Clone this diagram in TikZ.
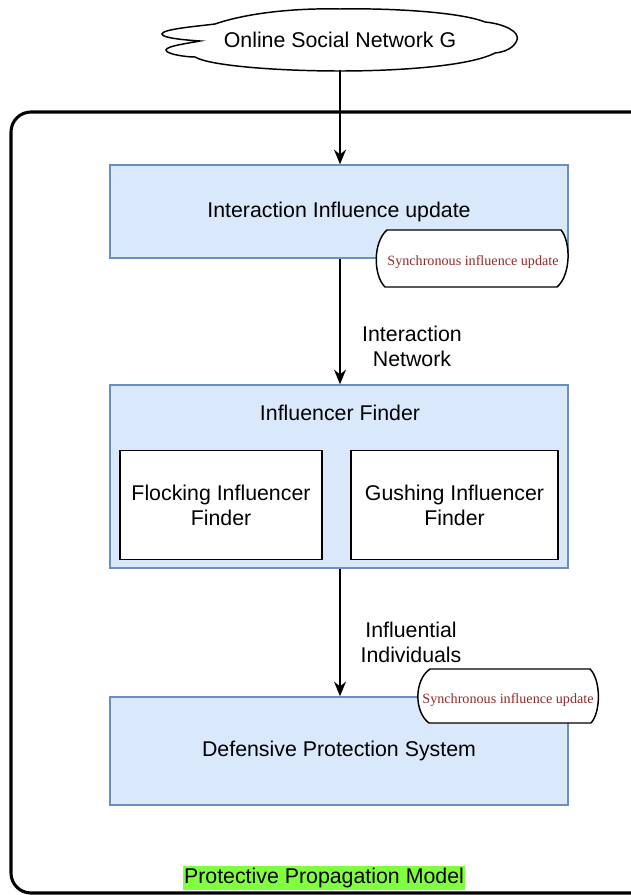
\documentclass[tikz,border=0pt]{standalone}
\usepackage{fontspec}
\setmainfont{Liberation Sans}
\newfontfamily\tagfont{Liberation Serif}
\usetikzlibrary{arrows.meta}
\definecolor{boxfill}{HTML}{DAE8FC}
\definecolor{boxline}{HTML}{6C8EBF}
\definecolor{tagred}{RGB}{150,40,40}
\definecolor{hlgreen}{RGB}{128,255,64}
\tikzset{
  bluebox/.style={draw=boxline, fill=boxfill, line width=1.1pt, minimum width=343.5pt, inner sep=0pt},
  whitebox/.style={draw=black, fill=white, line width=1.4pt, minimum height=81.75pt, inner sep=0pt, align=center},
  maintext/.style={font=\fontsize{16}{18.75}\selectfont, align=center},
  tagtext/.style={font=\tagfont\fontsize{10.6}{12}\selectfont, text=tagred, inner sep=0pt},
  tagshape/.style={draw=black, fill=white, line width=1.1pt},
  flow/.style={draw=black, line width=1.1pt, -{Stealth[length=11pt,width=9pt]}},
}
\begin{document}
\begin{tikzpicture}[x=0.75pt,y=-0.75pt]
\useasboundingbox (0,0) rectangle (631,895);
\fill[white] (0,0) rectangle (631,895);
\clip (0,0) rectangle (631,895);

% outer frame
\draw[line width=2.3pt, rounded corners=15pt] (11,893) rectangle (670,112);

% cloud
\node[maintext, minimum height=45pt, minimum width=200pt, inner sep=0pt] (cloud) at (340,40) {Online Social Network G};
\draw[line width=1.1pt, fill=white]
  (215,24) .. controls (250,12) and (300,8) .. (340,9)
  .. controls (390,8) and (460,12) .. (485,22)
  .. controls (505,24) and (520,32) .. (517,40)
  .. controls (514,48) and (505,52) .. (495,53)
  .. controls (470,66) and (400,71) .. (340,71)
  .. controls (280,71) and (210,66) .. (195,57)
  .. controls (185,57) and (166,54) .. (166,50)
  .. controls (166,46) and (190,43) .. (200,41)
  .. controls (185,40) and (162,38) .. (162,34)
  .. controls (162,29) and (200,26) .. (215,24);
\node[maintext] at (cloud.center) {Online Social Network G};

% main boxes
\node[bluebox, minimum height=69.75pt, maintext] (box1) at (339,211.5) {Interaction Influence update};
\node[bluebox, minimum height=137.25pt] (box2) at (339,476.5) {};
\node[maintext] (finder) at (340,413) {Influencer Finder};
\node[whitebox, minimum width=151.5pt, maintext] (flock) at (221,505) {Flocking Influencer\\Finder};
\node[whitebox, minimum width=155.25pt, maintext] (gush) at (454.5,505) {Gushing Influencer\\Finder};
\node[bluebox, minimum height=81pt, maintext] (box3) at (339,751) {Defensive Protection System};

% arrows
\draw[flow] (cloud.south -| 340,0) -- (box1.north -| 340,0);
\draw[flow] (box1.south -| 340,0) -- (box2.north -| 340,0);
\draw[flow] (box2.south -| 340,0) -- (box3.north -| 340,0);

\node[maintext] (lab1) at (412,346) {Interaction\\Network};
\node[maintext] (lab2) at (411,642) {Influential\\Individuals};

% tags
\draw[tagshape] (387,230) -- (561,230) .. controls (571,242) and (571,275) .. (557,287) -- (385,287) .. controls (373,275) and (373,242) .. cycle;
\node[tagtext] (tag1) at (473,262) {Synchronous influence update};
\draw[tagshape] (430,669) -- (590,669) .. controls (601,680) and (601,712) .. (591,723) -- (429,723) .. controls (414,712) and (414,680) .. cycle;
\node[tagtext] (tag2) at (508,700) {Synchronous influence update};

% model label
\node[maintext, fill=hlgreen, inner xsep=1pt, inner ysep=1.5pt] (model) at (324,878) {Protective Propagation Model};
\end{tikzpicture}
\end{document}
